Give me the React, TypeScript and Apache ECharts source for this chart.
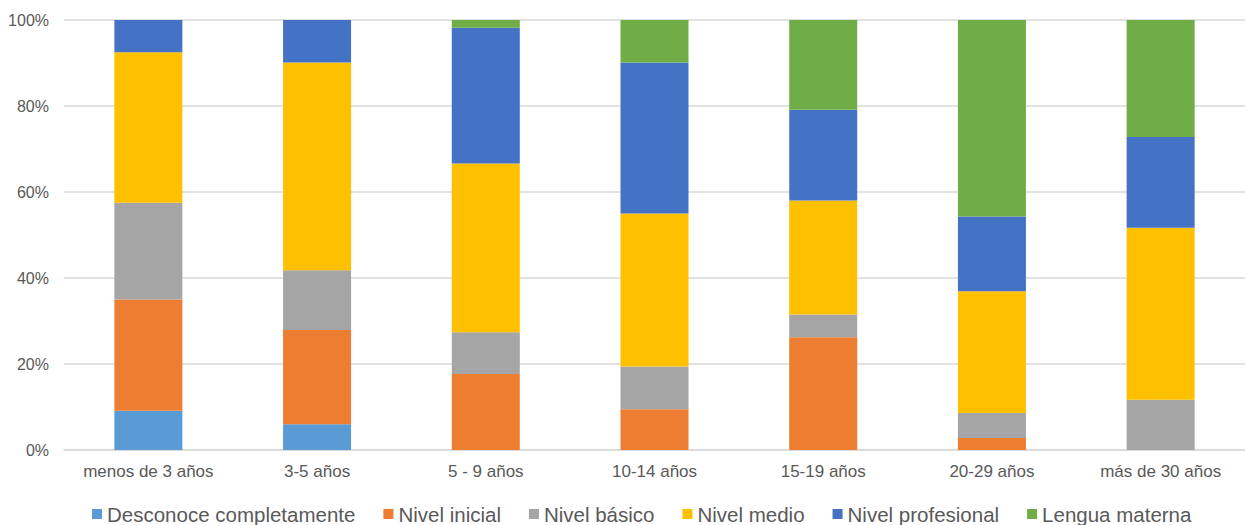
import React, { useEffect, useRef } from "react";
import * as echarts from "echarts";

// Age groups (x axis)
const categories = [
  "menos de 3 años",
  "3-5 años",
  "5 - 9 años",
  "10-14 años",
  "15-19 años",
  "20-29 años",
  "más de 30 años",
];

// Share of respondents per proficiency level, in percent of each age group
const desconoce = [9.1, 6.0, 0, 0, 0, 0, 0];
const inicial = [25.9, 21.9, 17.7, 9.5, 26.2, 2.8, 0];
const basico = [22.5, 13.9, 9.7, 9.9, 5.3, 5.8, 11.7];
const medio = [35.0, 48.3, 39.2, 35.6, 26.5, 28.3, 40.0];
const profesional = [7.5, 9.9, 31.6, 35.1, 21.1, 17.4, 21.1];
const lengua = [0, 0, 1.8, 9.9, 20.9, 45.7, 27.2];

const yTicks = [0, 20, 40, 60, 80, 100];

const seriesDefs = [
  { name: "Desconoce completamente", data: desconoce, color: "#5B9BD5" },
  { name: "Nivel inicial", data: inicial, color: "#ED7D31" },
  { name: "Nivel básico", data: basico, color: "#A5A5A5" },
  { name: "Nivel medio", data: medio, color: "#FFC000" },
  { name: "Nivel profesional", data: profesional, color: "#4472C4" },
  { name: "Lengua materna", data: lengua, color: "#70AD47" },
];

const FONT = "'Liberation Sans', Arial, sans-serif";
const TEXT = "#595959";

export default function App() {
  const ref = useRef<HTMLDivElement>(null);

  useEffect(() => {
    if (!ref.current) return;
    const chart = echarts.init(ref.current, null, { renderer: "svg" });
    chart.setOption({
      animation: false,
      backgroundColor: "#ffffff",
      textStyle: { fontFamily: FONT },
      grid: { left: 64, top: 20, width: 1192, height: 430, containLabel: false },
      legend: {
        left: 92,
        top: 503,
        padding: 0,
        itemWidth: 10,
        itemHeight: 10,
        itemGap: 28,
        icon: "rect",
        textStyle: {
          fontSize: 20.5,
          lineHeight: 22,
          color: TEXT,
          fontFamily: FONT,
          padding: [0, 0, 0, 0],
        },
        data: seriesDefs.map((s) => s.name),
      },
      xAxis: {
        type: "category",
        data: categories,
        axisLine: { show: true, lineStyle: { color: "#d9d9d9", width: 1.5 } },
        axisTick: { show: false },
        axisLabel: {
          interval: 0,
          fontSize: 17,
          color: TEXT,
          fontFamily: FONT,
          margin: 13,
        },
      },
      yAxis: {
        type: "value",
        min: yTicks[0],
        max: yTicks[yTicks.length - 1],
        interval: 20,
        axisLine: { show: false },
        axisTick: { show: false },
        splitLine: { lineStyle: { color: "#d9d9d9", width: 1.5 } },
        axisLabel: {
          fontSize: 16,
          color: TEXT,
          fontFamily: FONT,
          margin: 15,
          formatter: (v: number) => `${v}%`,
        },
      },
      series: seriesDefs.map((s) => ({
        name: s.name,
        type: "bar",
        stack: "total",
        barWidth: 68,
        data: s.data,
        itemStyle: { color: s.color },
        emphasis: { disabled: true },
      })),
    });
    return () => chart.dispose();
  }, []);

  return (
    <div
      ref={ref}
      style={{ position: "fixed", left: 0, top: 0, width: 1245, height: 525 }}
    />
  );
}
